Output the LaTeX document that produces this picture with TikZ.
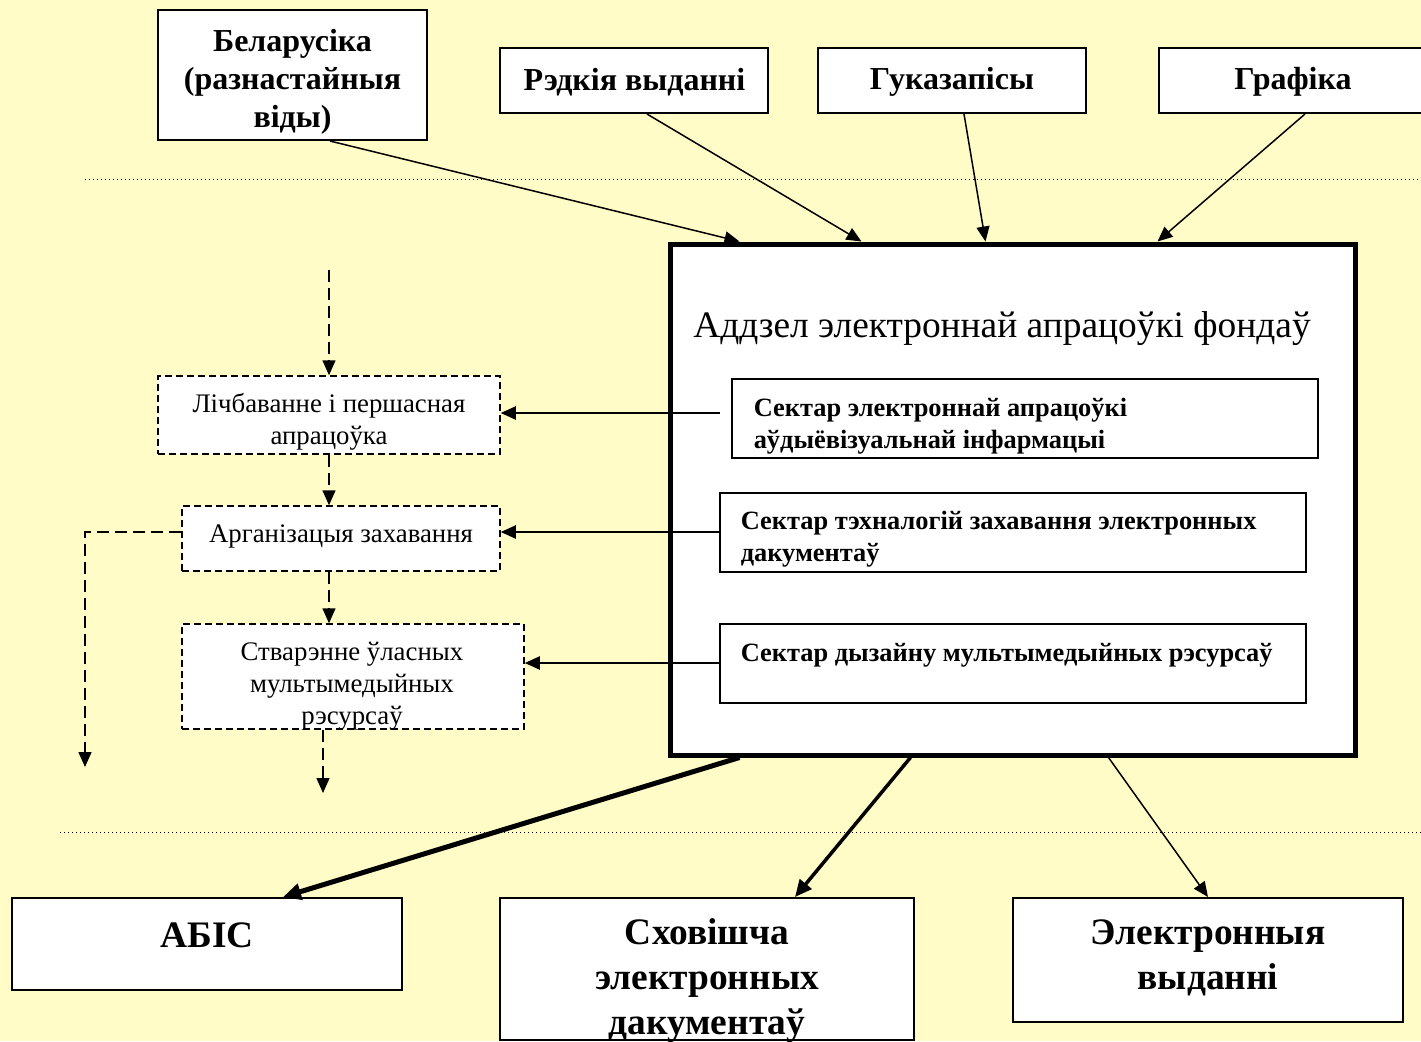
\documentclass[tikz,border=0pt]{standalone}
\usepackage{fontspec}
\setmainfont{Liberation Serif}
\usetikzlibrary{arrows.meta}

\definecolor{paper}{RGB}{255,252,200}
\tikzset{every picture/.style={line width=0.75pt}}
\tikzset{
  srcbox/.style={draw, fill=white, line width=1pt, inner sep=0pt},
  srctext/.style={align=center, inner sep=0pt, font=\fontsize{16}{19}\selectfont\bfseries},
  deptbox/.style={draw, fill=white, line width=2.5pt, inner sep=0pt},
  sectbox/.style={draw, fill=white, line width=1pt, inner sep=0pt, minimum width=293pt, minimum height=39.5pt},
  secttext/.style={anchor=west, align=left, inner sep=0pt, font=\fontsize{13.2}{16}\selectfont\bfseries},
  procbox/.style={draw, fill=white, line width=0.75pt, dash pattern=on 3.5pt off 2pt, inner sep=0pt},
  proctext/.style={align=center, inner sep=0pt, font=\fontsize{13.4}{16}\selectfont},
  outbox/.style={draw, fill=white, line width=1pt, inner sep=0pt},
  outtext/.style={align=center, inner sep=0pt, font=\fontsize{18.7}{22.5}\selectfont\bfseries},
  arr/.style={-{Triangle[length=7.5pt,width=6.5pt]}},
  dasharr/.style={arr, dash pattern=on 6pt off 3pt},
  sep/.style={line width=0.5pt, dash pattern=on 0.5pt off 1.5pt}
}

\begin{document}
\begin{tikzpicture}[x=0.5pt,y=0.5pt,yscale=-1,xscale=1]
	\fill[paper] (0,0) rectangle (1421,1041);
	\useasboundingbox (0,0) rectangle (1421,1041);
	\clip (0,0) rectangle (1421,1041);

	%Dotted separators
	\draw[sep] (85,179) -- (1421,179);
	\draw[sep] (60,832) -- (1421,832);

	%Sources
	\node[srcbox, minimum width=134.5pt, minimum height=65pt] (bel) at (292.5,75) {};
	\node[srcbox, minimum width=134pt, minimum height=32.5pt] (rare) at (634,80.5) {};
	\node[srcbox, minimum width=134pt, minimum height=32.5pt] (sound) at (952,80.5) {};
	\node[srcbox, minimum width=134.5pt, minimum height=32.5pt] (graph) at (1293.5,80.5) {};
	% Text Node
	\node[srctext] (belt) at (292.5,82) {Беларусіка\\(разнастайныя\\віды)};
	\node[srctext] (raret) at (634.5,82) {Рэдкія выданні};
	\node[srctext] (soundt) at (952,82) {Гуказапісы};
	\node[srctext] (grapht) at (1293,82) {Графіка};

	%Department
	\node[deptbox, minimum width=342.5pt, minimum height=255.5pt] (dept) at (1012.5,499.5) {};
	% Text Node
	\node[inner sep=0pt, font=\fontsize{18.7}{22}\selectfont] (title) at (1002,329) {Аддзел электроннай апрацоўкі фондаў};

	%Sectors
	\node[sectbox] (s1) at (1025,418.5) {};
	\node[sectbox] (s2) at (1012.5,532) {};
	\node[sectbox] (s3) at (1012.5,663) {};
	% Text Node
	\node[secttext] (s1t) at (753,426) {Сектар электроннай апрацоўкі\\аўдыёвізуальнай інфармацыі};
	\node[secttext] (s2t) at (740,539) {Сектар тэхналогій захавання электронных\\дакументаў};
	\node[secttext] (s3t) at (740,655) {Сектар дызайну мультымедыйных рэсурсаў};

	%Processes
	\node[procbox, minimum width=171pt, minimum height=39pt] (d1) at (329,415) {};
	\node[procbox, minimum width=159pt, minimum height=32.5pt] (d2) at (341,538.5) {};
	\node[procbox, minimum width=171pt, minimum height=52.5pt] (d3) at (353,676.5) {};
	% Text Node
	\node[proctext] (d1t) at (329,422) {Лічбаванне і першасная\\апрацоўка};
	\node[proctext] (d2t) at (341,536) {Арганізацыя захавання};
	\node[proctext] (d3t) at (352,686) {Стварэнне ўласных\\мультымедыйных\\рэсурсаў};

	%Outputs
	\node[outbox, minimum width=195pt, minimum height=46pt] (abis) at (207,944) {};
	\node[outbox, minimum width=207pt, minimum height=71pt] (store) at (707,969) {};
	\node[outbox, minimum width=195pt, minimum height=62pt] (epub) at (1208,960) {};
	% Text Node
	\node[outtext] (abist) at (207,935) {АБІС};
	\node[outtext] (storet) at (707,981) {Сховішча\\электронных\\дакументаў};
	\node[outtext] (epubt) at (1208,957.5) {Электронныя\\выданні};

	%Incoming arrows
	\draw[arr] ([xshift=18.75pt]bel.south) -- ([xshift=36pt]dept.north west);
	\draw[arr] ([xshift=6.5pt]rare.south) -- ([xshift=97pt]dept.north west);
	\draw[arr] ([xshift=6pt]sound.south) -- ([xshift=159pt]dept.north west);
	\draw[arr] ([xshift=5.75pt]graph.south) -- ([xshift=245pt]dept.north west);

	%Sector to process arrows
	\coordinate (s1in) at (720,413);
	\draw[arr, line width=1pt] (s1in) -- (s1in -| d1.east);
	\draw[arr, line width=1pt] (s2.west) -- (s2.west -| d2.east);
	\draw[arr, line width=1pt] (s3.west) -- (s3.west -| d3.east);

	%Dashed flow
	\coordinate (flowin) at (329,270);
	\coordinate (flowout) at (323,793);
	\coordinate (side) at (85,532);
	\coordinate (sideout) at (85,767);
	\draw[dasharr] (flowin) -- (d1.north);
	\draw[dasharr] (d1.south) -- (d1.south |- d2.north);
	\draw[dasharr] (d1.south |- d2.south) -- (d1.south |- d3.north);
	\draw[dasharr] (flowout |- d3.south) -- (flowout);
	\draw[dasharr] (side -| d2.west) -- (side) -- (sideout);

	%Outgoing arrows
	\draw[-{Triangle[length=9pt,width=8pt]}, line width=2.5pt] ([xshift=36pt]dept.south west) -- ([xshift=38pt]abis.north);
	\draw[-{Triangle[length=8.5pt,width=7.5pt]}, line width=1.75pt] ([xshift=121.5pt]dept.south west) -- ([xshift=44pt]store.north);
	\draw[arr] ([xshift=220.5pt]dept.south west) -- (epub.north);

\end{tikzpicture}
\end{document}
